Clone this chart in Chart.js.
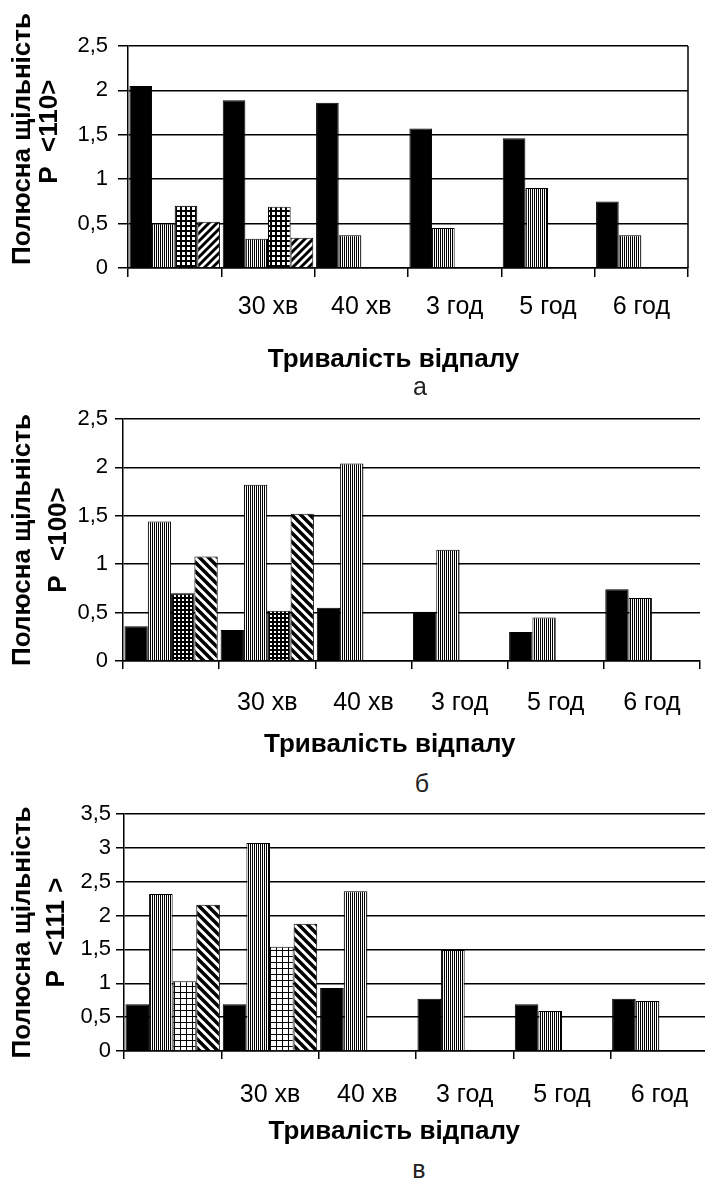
<!DOCTYPE html>
<html lang="uk">
<head>
<meta charset="utf-8">
<title>Полюсна щільність</title>
<script src="https://cdn.jsdelivr.net/npm/chart.js@4.4.1/dist/chart.umd.min.js"></script>
<style>
    html, body { margin: 0; padding: 0; background: #fff; overflow: hidden; }
    body { width: 705px; height: 1181px; position: relative; font-family: 'Liberation Sans', Arial, sans-serif; }
    canvas { position: absolute; left: 0; }
    .panel-letter { position: absolute; width: 40px; text-align: center; font-size: 25px; line-height: 30px; color: #222; }
</style>
</head>
<body>
<canvas id="chartA" width="705" height="385" style="top:0"></canvas>
<div class="panel-letter" style="left:400px; top:371px">а</div>
<canvas id="chartB" width="705" height="375" style="top:385px"></canvas>
<div class="panel-letter" style="left:402px; top:768px">б</div>
<canvas id="chartC" width="712" height="377" style="top:770px"></canvas>
<div class="panel-letter" style="left:399px; top:1154px">в</div>

<script>
// Data
const categories = ['', '30 хв', '40 хв', '3 год', '5 год', '6 год'];
const seriesNames = ['Серія 1', 'Серія 2', 'Серія 3', 'Серія 4'];

// а: P <110>
const p110Black = [2.05, 1.89, 1.86, 1.57, 1.46, 0.75];
const p110Stripe = [0.50, 0.33, 0.37, 0.45, 0.90, 0.37];
const p110Grid = [0.70, 0.69, null, null, null, null];
const p110Diag = [0.52, 0.34, null, null, null, null];

// б: P <100>
const p100Black = [0.36, 0.32, 0.55, 0.51, 0.30, 0.74];
const p100Stripe = [1.44, 1.82, 2.04, 1.15, 0.45, 0.65];
const p100Grid = [0.70, 0.52, null, null, null, null];
const p100Diag = [1.08, 1.52, null, null, null, null];

// в: P <111>
const p111Black = [0.69, 0.69, 0.93, 0.77, 0.69, 0.77];
const p111Stripe = [2.32, 3.07, 2.36, 1.49, 0.59, 0.74];
const p111Grid = [1.03, 1.54, null, null, null, null];
const p111Diag = [2.16, 1.88, null, null, null, null];

const xTitle = 'Тривалість відпалу';
const FONT = "'Liberation Sans', Arial, sans-serif";

// --- fill patterns ---
function newTile(w, h) {
    const tile = document.createElement('canvas');
    tile.width = w;
    tile.height = h;
    const c = tile.getContext('2d');
    c.fillStyle = '#fff';
    c.fillRect(0, 0, w, h);
    return { tile, c };
}

function stripePattern() {
    const { tile, c } = newTile(2, 1);
    c.fillStyle = '#000';
    c.fillRect(0, 0, 1, 1);
    return c.createPattern(tile, 'repeat');
}

function gridPattern(period, lineW) {
    const { tile, c } = newTile(period, period);
    c.fillStyle = '#000';
    c.fillRect(0, 0, period, lineW);
    c.fillRect(0, 0, lineW, period);
    return c.createPattern(tile, 'repeat');
}

function diagPattern(period, lineW, dir) {
    const { tile, c } = newTile(period, period);
    c.strokeStyle = '#000';
    c.lineWidth = lineW;
    c.beginPath();
    for (let k = -1; k <= 1; k++) {
        const x0 = k * period;
        if (dir === '/') {
            c.moveTo(x0 - 1, period + 1);
            c.lineTo(x0 + period + 1, -1);
        } else {
            c.moveTo(x0 - 1, -1);
            c.lineTo(x0 + period + 1, period + 1);
        }
    }
    c.stroke();
    return c.createPattern(tile, 'repeat');
}

// right-hand frame line (only panel а has it)
const plotFrame = {
    id: 'plotFrame',
    afterDatasetsDraw(chart) {
        const { ctx, chartArea } = chart;
        ctx.save();
        ctx.strokeStyle = '#000';
        ctx.lineWidth = 1.5;
        ctx.beginPath();
        ctx.moveTo(chartArea.right, chartArea.top);
        ctx.lineTo(chartArea.right, chartArea.bottom);
        ctx.stroke();
        ctx.restore();
    }
};

function buildChart(id, series, fills, cfg) {
    const datasets = series.map((values, i) => ({
        label: seriesNames[i],
        data: values,
        backgroundColor: fills[i],
        borderColor: '#000',
        borderWidth: 1,
        categoryPercentage: 0.97,
        barPercentage: 1.0
    }));

    return new Chart(document.getElementById(id), {
        type: 'bar',
        data: { labels: categories, datasets },
        plugins: cfg.frame ? [plotFrame] : [],
        options: {
            responsive: false,
            animation: false,
            layout: { padding: { top: cfg.padTop, right: cfg.padRight, left: 0, bottom: 0 } },
            plugins: {
                legend: { display: false },
                tooltip: { enabled: false }
            },
            scales: {
                x: {
                    afterFit: scale => { scale.height = cfg.xHeight; },
                    grid: {
                        offset: true,
                        drawOnChartArea: false,
                        drawTicks: true,
                        tickLength: cfg.xTickLen,
                        color: '#000',
                        lineWidth: 1.5
                    },
                    border: { display: true, color: '#000', width: 1.5 },
                    ticks: {
                        color: '#000',
                        padding: cfg.xTickPad,
                        maxRotation: 0,
                        autoSkip: false,
                        font: { family: FONT, size: 25 }
                    },
                    title: {
                        display: true,
                        text: cfg.xTitle,
                        color: '#000',
                        padding: { top: 0, bottom: cfg.xTitlePad },
                        font: { family: FONT, size: 26, weight: 'bold' }
                    }
                },
                y: {
                    min: 0,
                    max: cfg.yMax,
                    afterFit: scale => { scale.width = cfg.yWidth; },
                    grid: {
                        color: '#000',
                        lineWidth: 1.5,
                        tickLength: cfg.yTickLen
                    },
                    border: { display: true, color: '#000', width: 1.5 },
                    ticks: {
                        stepSize: 0.5,
                        color: '#000',
                        padding: cfg.yTickPad,
                        font: { family: FONT, size: 22 },
                        callback: value => String(value).replace('.', ',')
                    },
                    title: {
                        display: true,
                        text: cfg.yTitle,
                        color: '#000',
                        padding: { top: cfg.yTitlePad, bottom: 0 },
                        font: { family: FONT, size: 26, weight: 'bold', lineHeight: cfg.yTitleLH }
                    }
                }
            }
        }
    });
}

document.addEventListener('DOMContentLoaded', () => {
    // а
    buildChart('chartA',
        [p110Black, p110Stripe, p110Grid, p110Diag],
        ['#000', stripePattern(), gridPattern(5, 2), diagPattern(8, 3, '/')],
        {
            frame: true, yMax: 2.5,
            padTop: 46, padRight: 17, yWidth: 128, xHeight: 117,
            xTickLen: 9, xTickPad: 15, xTitlePad: 10,
            yTickLen: 10, yTickPad: 10, yTitlePad: 9.5, yTitleLH: 1.04,
            yTitle: ['     Полюсна щільність', '       P  <110>'],
            xTitle: xTitle + '    '
        });

    // б
    buildChart('chartB',
        [p100Black, p100Stripe, p100Grid, p100Diag],
        ['#000', stripePattern(), gridPattern(4, 2), diagPattern(9, 3.5, '\\')],
        {
            frame: false, yMax: 2.5,
            padTop: 34, padRight: 5, yWidth: 123, xHeight: 99,
            xTickLen: 8, xTickPad: 19.5, xTitlePad: 0,
            yTickLen: 8, yTickPad: 7, yTitlePad: 5, yTitleLH: 1.385,
            yTitle: ['Полюсна щільність', 'P  <100>'],
            xTitle: xTitle + '      '
        });

    // в
    buildChart('chartC',
        [p111Black, p111Stripe, p111Grid, p111Diag],
        ['#000', stripePattern(), gridPattern(6, 1), diagPattern(9, 3.5, '\\')],
        {
            frame: false, yMax: 3.5,
            padTop: 44, padRight: 4, yWidth: 124, xHeight: 96,
            xTickLen: 8, xTickPad: 21.5, xTitlePad: 0,
            yTickLen: 8, yTickPad: 5, yTitlePad: 6, yTitleLH: 1.31,
            yTitle: ['Полюсна щільність', 'P  <111 >'],
            xTitle: xTitle + '      '
        });
});
</script>
</body>
</html>
